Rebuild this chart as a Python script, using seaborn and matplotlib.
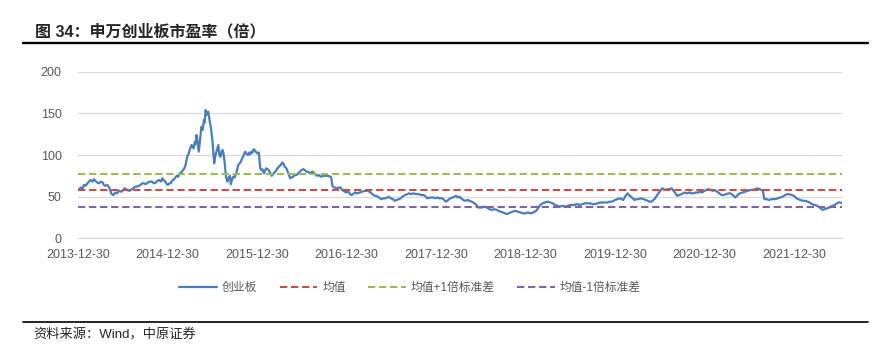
import pandas as pd
import matplotlib.pyplot as plt
import seaborn as sns
from matplotlib.lines import Line2D

# 申万创业板市盈率（倍）
dates = [
    '2013-12-30', '2014-01-06', '2014-01-10', '2014-01-16', '2014-01-22', '2014-01-29', '2014-02-05', '2014-02-12', '2014-02-18', '2014-02-26',
    '2014-03-04', '2014-03-10', '2014-03-17', '2014-03-25', '2014-04-01', '2014-04-08', '2014-04-14', '2014-04-18', '2014-04-28', '2014-05-05',
    '2014-05-09', '2014-05-14', '2014-05-20', '2014-05-26', '2014-05-30', '2014-06-06', '2014-06-15', '2014-06-25', '2014-07-02', '2014-07-07',
    '2014-07-12', '2014-07-18', '2014-07-28', '2014-08-05', '2014-08-12', '2014-08-19', '2014-08-26', '2014-09-02', '2014-09-10', '2014-09-17',
    '2014-09-24', '2014-10-01', '2014-10-10', '2014-10-17', '2014-10-27', '2014-11-04', '2014-11-12', '2014-11-18', '2014-11-25', '2014-12-02',
    '2014-12-08', '2014-12-12', '2014-12-18', '2014-12-24', '2014-12-30',
    '2015-01-06', '2015-01-12', '2015-01-16', '2015-01-22', '2015-01-28', '2015-02-05', '2015-02-11', '2015-02-18', '2015-02-26', '2015-03-03',
    '2015-03-08', '2015-03-13', '2015-03-20', '2015-03-26', '2015-04-01', '2015-04-07', '2015-04-10', '2015-04-15', '2015-04-20', '2015-04-23',
    '2015-04-27', '2015-05-01', '2015-05-06', '2015-05-11', '2015-05-17', '2015-05-22', '2015-05-27', '2015-05-30', '2015-06-03', '2015-06-07',
    '2015-06-10', '2015-06-14', '2015-06-17', '2015-06-20', '2015-06-24', '2015-06-28', '2015-07-01', '2015-07-04', '2015-07-08', '2015-07-12',
    '2015-07-17', '2015-07-21', '2015-07-25', '2015-07-29', '2015-08-03', '2015-08-07', '2015-08-11', '2015-08-15', '2015-08-20', '2015-08-25',
    '2015-08-31', '2015-09-04', '2015-09-10', '2015-09-14', '2015-09-18', '2015-09-24', '2015-09-30', '2015-10-08', '2015-10-14', '2015-10-20',
    '2015-10-25', '2015-10-30', '2015-11-03', '2015-11-08', '2015-11-12', '2015-11-18', '2015-11-23', '2015-11-28', '2015-12-03', '2015-12-07',
    '2015-12-12', '2015-12-16', '2015-12-20', '2015-12-25', '2015-12-31',
    '2016-01-06', '2016-01-08', '2016-01-12', '2016-01-15', '2016-01-21', '2016-01-27', '2016-02-05', '2016-02-16', '2016-02-28', '2016-03-07',
    '2016-03-14', '2016-03-20', '2016-03-28', '2016-04-05', '2016-04-11', '2016-04-15', '2016-04-21', '2016-04-28', '2016-05-06', '2016-05-13',
    '2016-05-19', '2016-05-26', '2016-06-01', '2016-06-08', '2016-06-15', '2016-06-22', '2016-06-29', '2016-07-06', '2016-07-12', '2016-07-18',
    '2016-07-25', '2016-08-02', '2016-08-12', '2016-08-20', '2016-08-30', '2016-09-07', '2016-09-15', '2016-09-25', '2016-10-05', '2016-10-14',
    '2016-10-24', '2016-10-28', '2016-11-01', '2016-11-04', '2016-11-10', '2016-11-20', '2016-11-28', '2016-12-05', '2016-12-12', '2016-12-22',
    '2016-12-30',
    '2017-01-06', '2017-01-13', '2017-01-20', '2017-02-03', '2017-02-10', '2017-02-22', '2017-03-03', '2017-03-15', '2017-03-28', '2017-04-07',
    '2017-04-14', '2017-04-24', '2017-05-01', '2017-05-10', '2017-05-20', '2017-05-30', '2017-06-08', '2017-06-20', '2017-06-28', '2017-07-07',
    '2017-07-14', '2017-07-22', '2017-07-31', '2017-08-08', '2017-08-15', '2017-08-25', '2017-09-05', '2017-09-10', '2017-09-20', '2017-09-28',
    '2017-10-10', '2017-10-20', '2017-10-30', '2017-11-08', '2017-11-15', '2017-11-24', '2017-12-05', '2017-12-12', '2017-12-20', '2017-12-28',
    '2018-01-05', '2018-01-12', '2018-01-25', '2018-02-01', '2018-02-08', '2018-02-14', '2018-02-26', '2018-03-08', '2018-03-15', '2018-03-22',
    '2018-03-28', '2018-04-04', '2018-04-12', '2018-04-20', '2018-04-27', '2018-05-08', '2018-05-15', '2018-05-25', '2018-06-05', '2018-06-13',
    '2018-06-20', '2018-06-28', '2018-07-06', '2018-07-15', '2018-07-25', '2018-08-05', '2018-08-15', '2018-08-25', '2018-09-05', '2018-09-10',
    '2018-09-20', '2018-10-08', '2018-10-15', '2018-10-22', '2018-10-30', '2018-11-08', '2018-11-20', '2018-11-28', '2018-12-10', '2018-12-20',
    '2018-12-31',
    '2019-01-10', '2019-01-20', '2019-01-31', '2019-02-12', '2019-02-22', '2019-03-01', '2019-03-10', '2019-03-20', '2019-04-01', '2019-04-10',
    '2019-04-20', '2019-04-30', '2019-05-10', '2019-05-20', '2019-05-31', '2019-06-10', '2019-06-20', '2019-07-01', '2019-07-15', '2019-07-30',
    '2019-08-10', '2019-08-20', '2019-08-30', '2019-09-10', '2019-09-20', '2019-10-01', '2019-10-10', '2019-10-20', '2019-11-01', '2019-11-10',
    '2019-11-20', '2019-12-01', '2019-12-10', '2019-12-20', '2019-12-31',
    '2020-01-10', '2020-01-20', '2020-02-03', '2020-02-12', '2020-02-20', '2020-02-26', '2020-03-05', '2020-03-12', '2020-03-20', '2020-03-27',
    '2020-04-05', '2020-04-15', '2020-04-25', '2020-05-05', '2020-05-12', '2020-05-20', '2020-05-28', '2020-06-05', '2020-06-12', '2020-06-20',
    '2020-06-28', '2020-07-03', '2020-07-10', '2020-07-17', '2020-07-25', '2020-08-01', '2020-08-10', '2020-08-18', '2020-08-26', '2020-09-03',
    '2020-09-10', '2020-09-18', '2020-09-28', '2020-10-10', '2020-10-20', '2020-10-30', '2020-11-08', '2020-11-15', '2020-11-25', '2020-12-05',
    '2020-12-12', '2020-12-20', '2020-12-31',
    '2021-01-08', '2021-01-15', '2021-01-25', '2021-02-03', '2021-02-10', '2021-02-20', '2021-03-01', '2021-03-10', '2021-03-20', '2021-03-30',
    '2021-04-08', '2021-04-15', '2021-04-25', '2021-05-05', '2021-05-12', '2021-05-18', '2021-05-25', '2021-06-05', '2021-06-15', '2021-06-25',
    '2021-07-05', '2021-07-15', '2021-07-25', '2021-08-05', '2021-08-12', '2021-08-20', '2021-08-25', '2021-09-01', '2021-09-10', '2021-09-20',
    '2021-09-30', '2021-10-08', '2021-10-15', '2021-10-25', '2021-11-05', '2021-11-15', '2021-11-25', '2021-12-03', '2021-12-10', '2021-12-20',
    '2021-12-31',
    '2022-01-10', '2022-01-25', '2022-02-05', '2022-02-15', '2022-02-25', '2022-03-05', '2022-03-15', '2022-03-25', '2022-04-05', '2022-04-15',
    '2022-04-27', '2022-05-05', '2022-05-15', '2022-05-25', '2022-06-05', '2022-06-15', '2022-06-25', '2022-06-30', '2022-07-08', '2022-07-15',
]
pe = [
    58, 60, 61, 59, 64, 63, 66, 68, 70, 68,
    71, 69, 67, 66, 68, 67, 64, 63, 64, 61,
    58, 54, 52, 53, 55, 54, 57, 56, 58, 60,
    59, 58, 57, 59, 60, 62, 62, 63, 64, 66,
    66, 65, 67, 68, 68, 66, 67, 69, 70, 68,
    72, 70, 69, 66, 64,
    66, 66, 69, 70, 72, 75, 74, 78, 80, 82,
    84, 88, 98, 102, 108, 112, 110, 108, 116, 113,
    124, 116, 104, 118, 134, 130, 142, 139, 154, 148,
    150, 152, 146, 140, 134, 124, 118, 104, 90, 98,
    104, 108, 112, 100, 98, 104, 106, 102, 90, 74,
    68, 72, 75, 65, 70, 74, 73, 80, 88, 90,
    92, 96, 98, 102, 104, 101, 100, 103, 101, 104,
    103, 107, 106, 104, 102,
    103, 98, 84, 82, 83, 78, 84, 82, 75, 78,
    80, 83, 86, 88, 91, 90, 86, 84, 78, 72,
    73, 74, 76, 76, 78, 80, 82, 83, 82, 80,
    80, 78, 80, 78, 75, 76, 74, 75, 75, 75,
    74, 73, 64, 62, 61, 60, 61, 61, 58, 56,
    55,
    56, 53, 52, 55, 54, 55, 56, 57, 57, 55,
    53, 51, 51, 49, 47, 48, 48, 50, 48, 47,
    45, 46, 47, 48, 50, 52, 53, 54, 53, 54,
    53, 53, 52, 52, 51, 48, 49, 49, 49, 48,
    49, 48, 48, 46, 44, 45, 48, 49, 50, 51,
    49, 50, 48, 46, 45, 46, 45, 44, 42, 40,
    37, 37, 37, 38, 37, 35, 34, 35, 34, 33,
    32, 30, 29, 30, 31, 32, 33, 32, 31, 30,
    30,
    31, 30, 31, 33, 37, 40, 42, 43, 44, 43,
    42, 40, 39, 38, 39, 38, 39, 40, 40, 41,
    40, 41, 42, 42, 42, 41, 41, 42, 43, 43,
    43, 43, 44, 44, 46,
    47, 48, 46, 51, 54, 52, 50, 48, 46, 47,
    47, 48, 47, 46, 45, 44, 44, 46, 48, 52,
    55, 57, 60, 59, 58, 59, 59, 60, 57, 54,
    51, 52, 53, 55, 54, 55, 54, 54, 55, 55,
    56, 55, 57,
    58, 59, 58, 57, 58, 56, 54, 52, 52, 53,
    54, 54, 52, 49, 51, 53, 54, 55, 56, 57,
    58, 58, 59, 60, 59, 58, 58, 47, 47, 46,
    47, 47, 47, 48, 49, 50, 52, 53, 53, 52,
    51,
    48, 46, 45, 45, 44, 43, 41, 40, 39, 37,
    34, 35, 36, 37, 39, 40, 42, 43, 43, 42,
]
mean_pe = 57.6
upper_pe = 77.6
lower_pe = 37.6
tick_dates = ['2013-12-30', '2014-12-30', '2015-12-30', '2016-12-30', '2017-12-30',
              '2018-12-30', '2019-12-30', '2020-12-30', '2021-12-30']

sns.set_style('white')
plt.rcParams['font.family'] = ['Liberation Sans', 'Noto Sans CJK SC']

df = pd.DataFrame({'date': pd.to_datetime(dates), 'pe': pe})

W, H = 882, 351
fig = plt.figure(figsize=(8.82, 3.51), dpi=100)
ax = fig.add_axes([78.3 / W, 1 - 238.3 / H, (842 - 78.3) / W, (238.3 - 71.7) / H])

sns.lineplot(data=df, x='date', y='pe', ax=ax, color='#4A7EBB', lw=1.6, label='创业板')
ax.axhline(mean_pe, color='#C0504D', lw=1.5, dashes=(3.5, 1.8), label='均值')
ax.axhline(upper_pe, color='#9BBB59', lw=1.5, dashes=(3.5, 1.8), label='均值+1倍标准差')
ax.axhline(lower_pe, color='#8064A2', lw=1.5, dashes=(3.5, 1.8), label='均值-1倍标准差')

ax.set_ylim(0, 200)
ax.set_yticks([0, 50, 100, 150, 200])
ax.set_xlim(pd.Timestamp('2013-12-30'), df['date'].max())
ax.set_xticks(pd.to_datetime(tick_dates))
ax.set_xticklabels(tick_dates)
ax.set_xlabel('')
ax.set_ylabel('')
ax.grid(axis='y', color='#d9d9d9', lw=0.9)
ax.set_axisbelow(True)
for s in ['top', 'right', 'left']:
    ax.spines[s].set_visible(False)
ax.spines['bottom'].set_color('#d9d9d9')
ax.tick_params(axis='x', length=4, color='#d9d9d9', colors='#595959', labelsize=9, pad=4)
ax.tick_params(axis='y', length=0, colors='#595959', labelsize=9, pad=12)

ax.legend(loc='center', bbox_to_anchor=(410 / W, 1 - 288 / H), bbox_transform=fig.transFigure,
          ncol=4, frameon=False, handlelength=3.2, columnspacing=1.9, handletextpad=0.4,
          fontsize=8.5, labelcolor='#595959')

fig.text(35 / W, 1 - 31.5 / H, '图 34：申万创业板市盈率（倍）', fontsize=11.5, fontweight='bold',
         va='center', ha='left')
fig.add_artist(Line2D([23 / W, 868 / W], [1 - 42.8 / H] * 2, lw=1.7, color='black'))
fig.add_artist(Line2D([23 / W, 868 / W], [1 - 322.3 / H] * 2, lw=1.2, color='black'))
fig.text(33 / W, 1 - 335 / H, '资料来源：Wind，中原证券', fontsize=9.5, va='center', ha='left')

fig.savefig('out.png', dpi=100)
